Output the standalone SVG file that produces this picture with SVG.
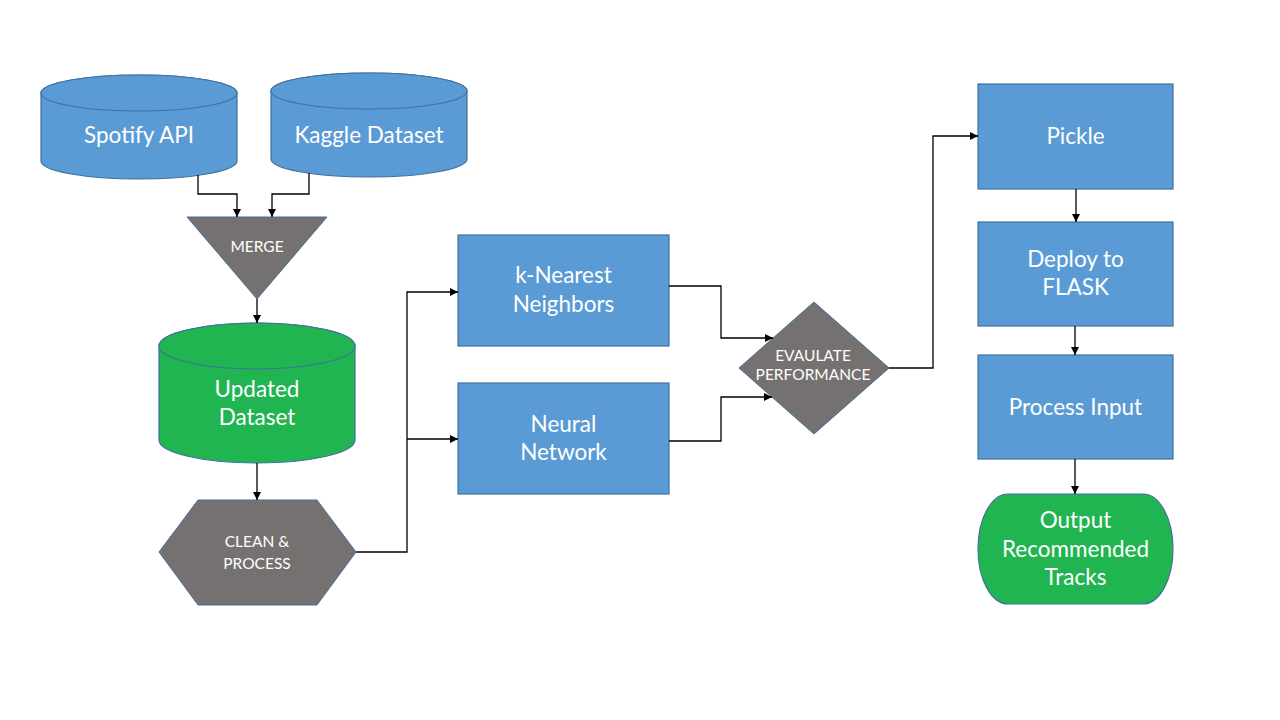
<svg xmlns="http://www.w3.org/2000/svg" width="1280" height="720" viewBox="0 0 1280 720">
<defs>
<marker id="arr" viewBox="0 0 10 10" refX="10" refY="5" markerWidth="9" markerHeight="8" markerUnits="userSpaceOnUse" orient="auto">
<path d="M0,0 L10,5 L0,10 Z" fill="#000"/>
</marker>
<style>
.blue{fill:#5B9BD5;stroke:#41719C;stroke-width:1.2}
.gray{fill:#767171;stroke:#41719C;stroke-width:1}
.green{fill:#21B552;stroke:#41719C;stroke-width:1.2}
.t{font-family:Lato,"Liberation Sans",sans-serif;fill:#fff;text-anchor:middle}
.big{font-size:22.5px}
.sm{font-size:15.5px}
.c{fill:none;stroke:#000;stroke-width:1.3;marker-end:url(#arr)}
</style>
</defs>
<rect width="1280" height="720" fill="#fff"/>

<g id="spotify">
<path class="blue" d="M41,93 V161 A98,18 0 0 0 237,161 V93 A98,18 0 0 0 41,93 Z"/>
<ellipse class="blue" cx="139" cy="93" rx="98" ry="18"/>
<text class="t big" x="139" y="143">Spotify API</text>
</g>

<g id="kaggle">
<path class="blue" d="M271,91 V159 A98,18 0 0 0 467,159 V91 A98,18 0 0 0 271,91 Z"/>
<ellipse class="blue" cx="369" cy="91" rx="98" ry="18"/>
<text class="t big" x="369" y="143">Kaggle Dataset</text>
</g>

<g id="merge">
<polygon class="gray" points="187,217 327,217 257,299"/>
<text class="t sm" x="257" y="252">MERGE</text>
</g>

<g id="updated">
<path class="green" d="M159,346 V440 A98,23 0 0 0 355,440 V346 A98,23 0 0 0 159,346 Z"/>
<ellipse class="green" cx="257" cy="346" rx="98" ry="23"/>
<text class="t big" x="257" y="397">Updated</text>
<text class="t big" x="257" y="425">Dataset</text>
</g>

<g id="clean">
<polygon class="gray" points="198,500 317,500 356,552 317,605 198,605 159,552"/>
<text class="t sm" x="257" y="547">CLEAN &amp;</text>
<text class="t sm" x="257" y="569">PROCESS</text>
</g>

<g id="knn">
<rect class="blue" x="458" y="235" width="211" height="111"/>
<text class="t big" x="563.5" y="283">k-Nearest</text>
<text class="t big" x="563.5" y="312">Neighbors</text>
</g>

<g id="nn">
<rect class="blue" x="458" y="383" width="211" height="111"/>
<text class="t big" x="563.5" y="432">Neural</text>
<text class="t big" x="563.5" y="460">Network</text>
</g>

<g id="evaluate">
<polygon class="gray" points="739,368 814,302 889,368 814,434"/>
<text class="t sm" x="813" y="361">EVAULATE</text>
<text class="t sm" x="813" y="380">PERFORMANCE</text>
</g>

<g id="pickle">
<rect class="blue" x="978" y="84" width="195" height="105"/>
<text class="t big" x="1075.5" y="144">Pickle</text>
</g>

<g id="deploy">
<rect class="blue" x="978" y="222" width="195" height="104"/>
<text class="t big" x="1075.5" y="267">Deploy to</text>
<text class="t big" x="1075.5" y="295">FLASK</text>
</g>

<g id="process">
<rect class="blue" x="978" y="355" width="195" height="104"/>
<text class="t big" x="1075.5" y="415">Process Input</text>
</g>

<g id="output">
<rect class="green" x="978" y="494" width="195" height="110" rx="30" ry="55"/>
<text class="t big" x="1075.5" y="528">Output</text>
<text class="t big" x="1075.5" y="557">Recommended</text>
<text class="t big" x="1075.5" y="585">Tracks</text>
</g>

<g id="connectors">
<path class="c" d="M198,175 V194 H237 V217"/>
<path class="c" d="M309,173 V194 H272 V217"/>
<path class="c" d="M257,299 V323"/>
<path class="c" d="M257,463 V500"/>
<path class="c" d="M356,552 H407 V292 H458"/>
<path class="c" d="M407,439 H458"/>
<path class="c" d="M669,286 H721 V338 H773"/>
<path class="c" d="M669,441 H721 V397 H772"/>
<path class="c" d="M889,368 H933 V136 H978"/>
<path class="c" d="M1076,189 V222"/>
<path class="c" d="M1075,326 V355"/>
<path class="c" d="M1075,459 V494"/>
</g>
</svg>
